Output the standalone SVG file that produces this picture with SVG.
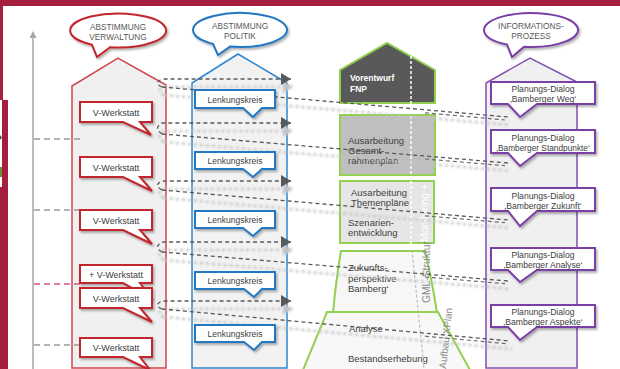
<svg xmlns="http://www.w3.org/2000/svg" width="620" height="369" viewBox="0 0 620 369">
<defs>
<style>
text{font-family:"Liberation Sans",Arial,sans-serif}
.et{font-size:8.3px;fill:#595959;text-anchor:middle}
.vt{font-size:9px;fill:#404040;text-anchor:middle}
.lt{font-size:8.5px;fill:#404040;text-anchor:middle}
.pt{font-size:8.6px;fill:#404040;text-anchor:middle}
.gt{font-size:9.5px;fill:#404040}
.cv{fill:#fff;stroke:#C1272D;stroke-width:2;filter:url(#ds)}
.cl{fill:#fff;stroke:#2478C2;stroke-width:2;filter:url(#ds)}
.cp{fill:#fff;stroke:#7A3FA6;stroke-width:2;filter:url(#ds)}
.con{fill:none;stroke:#595959;stroke-width:1.3;stroke-dasharray:4 3}
.dbl{fill:none;stroke:#707070;stroke-width:1.2;stroke-dasharray:4 3}
.sh{fill:none;stroke:#C4C4C4;stroke-width:2.5;stroke-dasharray:3 3}
.tick{stroke:#999;stroke-width:1.3;stroke-dasharray:6 4}
.grn{stroke:#92D050;stroke-width:2}
</style>
<filter id="ds" filterUnits="userSpaceOnUse" x="0" y="0" width="620" height="369"><feDropShadow dx="1.5" dy="2" stdDeviation="1.2" flood-color="#000" flood-opacity="0.3"/></filter>
<filter id="blur" filterUnits="userSpaceOnUse" x="0" y="0" width="620" height="369"><feGaussianBlur stdDeviation="1.3"/></filter>
<marker id="ah" viewBox="0 0 10 12" refX="10" refY="6" markerWidth="10" markerHeight="12" markerUnits="userSpaceOnUse" orient="auto"><path d="M0,0 L10,6 L0,12 Z" fill="#595959"/></marker>
<marker id="ahs" viewBox="0 0 10 12" refX="10" refY="6" markerWidth="10" markerHeight="12" markerUnits="userSpaceOnUse" orient="auto"><path d="M0,0 L10,6 L0,12 Z" fill="#C4C4C4"/></marker>
</defs>

<!-- frame -->
<rect width="620" height="369" fill="#A51E3D"/>
<rect x="3" y="6" width="617" height="363" fill="#fff"/>
<rect x="0" y="100" width="8" height="269" fill="#A51E3D"/>
<rect x="0" y="100" width="2" height="87" fill="#fff"/>
<path d="M0,135 L2,137.5 L0,140 Z" fill="#555"/>
<rect x="0" y="167" width="2" height="10" fill="#6A8F3A"/>

<!-- axis -->
<g id="axis">
<line x1="33" y1="37" x2="33" y2="369" stroke="#A6A6A6" stroke-width="1.5"/>
<polygon points="33,31 29.5,38 36.5,38" fill="#A6A6A6"/>
</g>

<!-- columns -->
<g id="col-verwaltung"><path d="M72,368 V86 L118,58 L166,85 V368 Z" fill="#F0F0F0" stroke="#D0464E" stroke-width="1.5"/></g>
<g id="col-politik"><path d="M192,368 V83 L238,54 L287,83 V368 Z" fill="#F2F2F2" stroke="#2E86D0" stroke-width="1.5"/></g>
<g id="col-information"><path d="M486,368 V83 L530,58 L577,82 V368 Z" fill="#F0F0F0" stroke="#8050B0" stroke-width="1.5"/></g>

<g id="ticks">
<line class="tick" x1="34" y1="139" x2="80" y2="139"/>
<line class="tick" x1="34" y1="210" x2="80" y2="210"/>
<line class="tick" x1="34" y1="284" x2="80" y2="284" style="stroke:#D6547C"/>
<line class="tick" x1="34" y1="345" x2="80" y2="345"/>
</g>

<!-- center stack -->
<g id="vorentwurf">
<path class="grn" d="M340,103 V70 L387,43 L435,70 V103 Z" fill="#595959"/>
<text x="350" y="81" style="font-size:8.5px;font-weight:bold;fill:#fff">Vorentwurf</text>
<text x="350" y="92" style="font-size:8.5px;font-weight:bold;fill:#fff">FNP</text>
</g>
<g id="gesamtrahmenplan">
<rect class="grn" x="340" y="115" width="95" height="60" fill="#BFBFBF"/>
<text class="gt" x="348" y="144">Ausarbeitung</text>
<text class="gt" x="348" y="154">Gesamt-</text>
<text class="gt" x="348" y="164">rahmenplan</text>
</g>
<g id="themenplaene">
<rect class="grn" x="340" y="181" width="94" height="62" fill="#E6E6E6"/>
<text class="gt" x="351" y="196">Ausarbeitung</text>
<text class="gt" x="351" y="206">Themenpläne</text>
<text class="gt" x="348" y="226">Szenarien-</text>
<text class="gt" x="348" y="236">entwicklung</text>
</g>
<g id="zukunft">
<path class="grn" d="M341,251 L425,251 Q432,280 437,313 L333,313 Q336,280 341,251 Z" fill="#F7F7F7"/>
<text class="gt" x="348" y="271">Zukunfts-</text>
<text class="gt" x="348" y="282">perspektive</text>
<text class="gt" x="348" y="292">Bamberg‘</text>
</g>
<g id="analyse">
<path class="grn" d="M327,312 L438,312 L470,370 L303,370 Z" fill="#F8F8F8"/>
<text class="gt" x="349" y="332">Analyse</text>
<text class="gt" x="348" y="362">Bestandserhebung</text>
</g>
<g id="monitoring">
<line x1="411" y1="46" x2="411" y2="250" stroke="#fff" stroke-width="1.5" stroke-dasharray="3 2"/>
<line x1="412" y1="250" x2="424" y2="369" stroke="#BBBBBB" stroke-width="1.2" stroke-dasharray="3 2"/>
<text transform="translate(428,242) rotate(-90)" style="font-size:10.5px;fill:#fff">Monitoring +</text>
<text transform="translate(430,303) rotate(-90)" style="font-size:10.3px;fill:#8C8C8C">GML-Struktur</text>
<text transform="translate(446,369) rotate(-84)" style="font-size:10px;fill:#8C8C8C">Aufbau XPlan</text>
</g>

<!-- connectors -->
<g id="connectors">
<g filter="url(#blur)">
<g transform="translate(2,8)">
<path class="sh" d="M162,87 Q153,83 162,79 L291,79" marker-end="url(#ahs)"/>
<path class="sh" d="M162,134 Q153,128 162,123 L291,123" marker-end="url(#ahs)"/>
<path class="sh" d="M162,190 Q153,185 162,181 L291,181" marker-end="url(#ahs)"/>
<path class="sh" d="M162,252 Q153,247 162,242 L291,242" marker-end="url(#ahs)"/>
<path class="sh" d="M162,309 Q153,305 162,301 L291,301" marker-end="url(#ahs)"/>
<path class="sh" d="M162,87 L508,117"/>
<path class="sh" d="M162,134 L508,163"/>
<path class="sh" d="M162,190 L508,220"/>
<path class="sh" d="M162,252 L508,281"/>
<path class="sh" d="M162,309 L510,341"/>
</g>
</g>
<path class="con" d="M162,87 Q153,83 162,79 L291,79" marker-end="url(#ah)"/>
<path class="con" d="M162,134 Q153,128 162,123 L291,123" marker-end="url(#ah)"/>
<path class="con" d="M162,190 Q153,185 162,181 L291,181" marker-end="url(#ah)"/>
<path class="con" d="M162,252 Q153,247 162,242 L291,242" marker-end="url(#ah)"/>
<path class="con" d="M162,309 Q153,305 162,301 L291,301" marker-end="url(#ah)"/>
<path class="con" d="M162,87 L508,117"/>
<path class="con" d="M162,134 L508,163"/>
<path class="con" d="M162,190 L508,220"/>
<path class="con" d="M162,252 L508,281"/>
<path class="con" d="M162,309 L510,341"/>
<path class="dbl" d="M425,112.8 L505,120"/>
<path class="dbl" d="M425,159 L505,165.7"/>
<path class="dbl" d="M425,215.8 L505,222.7"/>
<path class="dbl" d="M425,277 L505,283.7"/>
<path class="dbl" d="M425,336.2 L507,343.7"/>
</g>

<!-- header callouts -->
<g id="head-verwaltung">
<path d="M110,47.3 A48,17 0 1 0 92,44.8 L97,57 Z" fill="#fff" stroke="#C1272D" stroke-width="2" filter="url(#ds)"/>
<text class="et" x="118" y="29.5">ABSTIMMUNG</text>
<text class="et" x="118" y="39.5">VERWALTUNG</text>
</g>
<g id="head-politik">
<path d="M230,46.6 A47,17 0 1 0 213,43.9 L218,55 Z" fill="#fff" stroke="#2478C2" stroke-width="2" filter="url(#ds)"/>
<text class="et" x="240" y="29">ABSTIMMUNG</text>
<text class="et" x="240" y="39">POLITIK</text>
</g>
<g id="head-information">
<path d="M524,46.8 A47,17 0 1 0 507,44.6 L512,57 Z" fill="#fff" stroke="#7A3FA6" stroke-width="2" filter="url(#ds)"/>
<text class="et" x="531" y="29">INFORMATIONS-</text>
<text class="et" x="531" y="39">PROZESS</text>
</g>

<!-- V-Werkstatt callouts -->
<g id="vw1"><path class="cv" d="M80,102 H152 V122 H140 L151,135 L123,122 H80 Z"/><text class="vt" x="116" y="115.5">V-Werkstatt</text></g>
<g id="vw2"><path class="cv" d="M80,157 H152 V177 H140 L152,191 L123,177 H80 Z"/><text class="vt" x="116" y="170.5">V-Werkstatt</text></g>
<g id="vw3"><path class="cv" d="M80,210 H152 V230 H140 L152,244 L123,230 H80 Z"/><text class="vt" x="116" y="223.5">V-Werkstatt</text></g>
<g id="vw4"><path class="cv" d="M80,265 H152 V283 H140 L152,299 L123,283 H80 Z"/><text class="vt" x="116" y="277.5">+ V-Werkstatt</text></g>
<g id="vw5"><path class="cv" d="M80,288 H152 V308 H140 L152,322 L123,308 H80 Z"/><text class="vt" x="116" y="301.5">V-Werkstatt</text></g>
<g id="vw6"><path class="cv" d="M80,338 H152 V357 H140 L150,370 L123,357 H80 Z"/><text class="vt" x="116" y="350.5">V-Werkstatt</text></g>

<!-- Lenkungskreis callouts -->
<g id="lk1"><path class="cl" d="M195,90 H275 V108 H262 L253,117 L243,108 H195 Z"/><text class="lt" x="235" y="102.5">Lenkungskreis</text></g>
<g id="lk2"><path class="cl" d="M195,152 H275 V169 H262 L253,177 L243,169 H195 Z"/><text class="lt" x="235" y="164">Lenkungskreis</text></g>
<g id="lk3"><path class="cl" d="M195,211 H275 V228 H262 L253,236 L243,228 H195 Z"/><text class="lt" x="235" y="223">Lenkungskreis</text></g>
<g id="lk4"><path class="cl" d="M195,272 H275 V289 H262 L254,297 L244,289 H195 Z"/><text class="lt" x="235" y="284">Lenkungskreis</text></g>
<g id="lk5"><path class="cl" d="M195,325 H275 V342 H262 L254,350 L244,342 H195 Z"/><text class="lt" x="235" y="337">Lenkungskreis</text></g>

<!-- Planungs-Dialog callouts -->
<g id="pd1"><path class="cp" d="M491,82 H595 V104 H537 L520,117 L508,104 H491 Z"/><text class="pt" x="543" y="92">Planungs-Dialog</text><text class="pt" x="543" y="101.5">‚Bamberger Weg‘</text></g>
<g id="pd2"><path class="cp" d="M491,130 H595 V153 H537 L520,166 L508,153 H491 Z"/><text class="pt" x="543" y="140.5">Planungs-Dialog</text><text class="pt" x="543" y="151" style="font-size:8.3px">‚Bamberger Standpunkte‘</text></g>
<g id="pd3"><path class="cp" d="M491,188 H595 V211 H537 L520,226 L508,211 H491 Z"/><text class="pt" x="543" y="198.5">Planungs-Dialog</text><text class="pt" x="543" y="209">‚Bamberger Zukunft‘</text></g>
<g id="pd4"><path class="cp" d="M491,248 H595 V270 H537 L520,282 L508,270 H491 Z"/><text class="pt" x="543" y="258">Planungs-Dialog</text><text class="pt" x="543" y="267.5">‚Bamberger Analyse‘</text></g>
<g id="pd5"><path class="cp" d="M491,305 H595 V327 H537 L520,340 L508,327 H491 Z"/><text class="pt" x="543" y="315">Planungs-Dialog</text><text class="pt" x="543" y="324.5">‚Bamberger Aspekte‘</text></g>
</svg>
